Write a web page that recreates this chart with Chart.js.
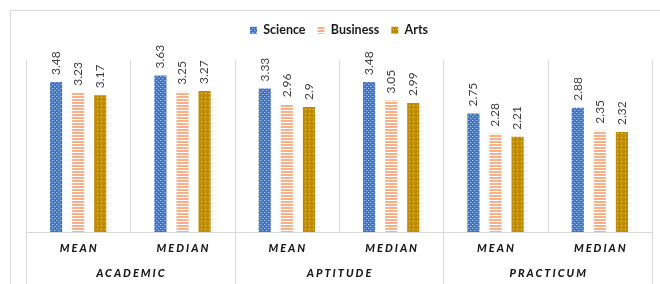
<!DOCTYPE html>
<html>
<head>
<meta charset="utf-8">
<script src="https://cdn.jsdelivr.net/npm/chart.js@4/dist/chart.umd.min.js"></script>
<style>
  html, body { margin: 0; padding: 0; background: #fff; }
  #wrap { position: relative; width: 660px; height: 284px; overflow: hidden; }
  #frame { position: absolute; left: 10px; top: 10px; width: 700px; height: 300px;
           border-top: 1px solid #d9d9d9; border-left: 1px solid #d9d9d9; }
  canvas { position: absolute; left: 0; top: 0; }
</style>
</head>
<body>
<div id="wrap">
  <div id="frame"></div>
  <canvas id="c" width="660" height="284"></canvas>
</div>
<script>
const categories = ['MEAN', 'MEDIAN', 'MEAN', 'MEDIAN', 'MEAN', 'MEDIAN'];
const groups = ['ACADEMIC', 'APTITUDE', 'PRACTICUM'];
const seriesNames = ['Science', 'Business', 'Arts'];
const science = [3.48, 3.63, 3.33, 3.48, 2.75, 2.88];
const business = [3.23, 3.25, 2.96, 3.05, 2.28, 2.35];
const arts = [3.17, 3.27, 2.9, 2.99, 2.21, 2.32];

function makePattern(w, h, draw) {
  const c = document.createElement('canvas');
  c.width = w; c.height = h;
  const g = c.getContext('2d');
  draw(g);
  return document.getElementById('c').getContext('2d').createPattern(c, 'repeat');
}
const sciencePattern = makePattern(4, 4, g => {
  g.fillStyle = '#4472C4'; g.fillRect(0, 0, 4, 4);
  g.fillStyle = 'rgba(255,255,255,0.55)';
  g.fillRect(0, 0, 1, 1); g.fillRect(2, 2, 1, 1);
  g.fillStyle = 'rgba(255,255,255,0.25)';
  g.fillRect(1, 0, 1, 1); g.fillRect(3, 2, 1, 1);
});
const businessPattern = makePattern(4, 3, g => {
  g.fillStyle = '#ffffff'; g.fillRect(0, 0, 4, 3);
  g.fillStyle = '#F7B08A'; g.fillRect(0, 0, 4, 2);
});
const artsPattern = makePattern(4, 4, g => {
  g.fillStyle = '#BF8C06'; g.fillRect(0, 0, 4, 4);
  g.fillStyle = 'rgba(255,255,255,0.6)';
  g.fillRect(1, 1, 1, 1);
});

const FONT = 'Lato, "Open Sans", sans-serif';
const TEXT = '#1a1a1a';

const decorPlugin = {
  id: 'decor',
  beforeInit(chart) {
    const legend = chart.legend;
    if (legend) {
      const fit = legend.fit;
      legend.fit = function () { fit.call(this); this.height += 13; };
    }
  },
  beforeDatasetsDraw(chart) {
    const { ctx, chartArea: a, scales: { x } } = chart;
    ctx.save();
    ctx.strokeStyle = '#d9d9d9';
    ctx.lineWidth = 1;
    const n = categories.length;
    for (let i = 0; i <= n; i++) {
      let px;
      if (i === 0) px = x.left;
      else if (i === n) px = x.right;
      else px = (x.getPixelForValue(i - 1) + x.getPixelForValue(i)) / 2;
      px = Math.round(px) + 0.5;
      const bottom = (i % 2 === 0) ? chart.height : a.bottom;
      ctx.beginPath();
      ctx.moveTo(px, a.top);
      ctx.lineTo(px, bottom);
      ctx.stroke();
    }
    ctx.beginPath();
    ctx.moveTo(x.left, Math.round(a.bottom) + 0.5);
    ctx.lineTo(x.right, Math.round(a.bottom) + 0.5);
    ctx.stroke();
    ctx.restore();
  },
  afterDatasetsDraw(chart) {
    const { ctx, chartArea: a, scales: { x } } = chart;
    ctx.save();
    // value labels
    ctx.fillStyle = '#404040';
    ctx.font = '12px ' + FONT;
    ctx.textAlign = 'left';
    ctx.textBaseline = 'middle';
    chart.data.datasets.forEach((ds, di) => {
      const meta = chart.getDatasetMeta(di);
      meta.data.forEach((bar, i) => {
        ctx.save();
        ctx.translate(bar.x, bar.y - 7);
        ctx.rotate(-Math.PI / 2);
        ctx.fillText(String(ds.data[i]), 0, 0);
        ctx.restore();
      });
    });
    // category labels
    const sp = 2;
    ctx.letterSpacing = sp + 'px';
    ctx.fillStyle = TEXT;
    ctx.font = 'italic 900 11px ' + FONT;
    ctx.textAlign = 'center';
    categories.forEach((lab, i) => {
      ctx.fillText(lab, x.getPixelForValue(i) + sp / 2, a.bottom + 16);
    });
    groups.forEach((lab, gi) => {
      const cx = (x.getPixelForValue(gi * 2) + x.getPixelForValue(gi * 2 + 1)) / 2;
      ctx.fillText(lab, cx + sp / 2, a.bottom + 41);
    });
    ctx.restore();
  }
};

new Chart(document.getElementById('c'), {
  type: 'bar',
  data: {
    labels: categories,
    datasets: [
      { label: seriesNames[0], data: science, backgroundColor: sciencePattern },
      { label: seriesNames[1], data: business, backgroundColor: businessPattern },
      { label: seriesNames[2], data: arts, backgroundColor: artsPattern }
    ]
  },
  options: {
    responsive: false,
    animation: false,
    events: [],
    layout: { padding: { left: 26, right: 8, top: 12, bottom: 52 } },
    categoryPercentage: 0.635,
    barPercentage: 0.55,
    scales: {
      x: { display: false },
      y: { display: false, min: 0, max: 4 }
    },
    plugins: {
      legend: {
        position: 'top',
        labels: {
          boxWidth: 7, boxHeight: 7, padding: 12,
          color: TEXT,
          font: { family: FONT, size: 12.5, weight: 'bold' }
        }
      },
      tooltip: { enabled: false }
    }
  },
  plugins: [decorPlugin]
});
</script>
</body>
</html>
